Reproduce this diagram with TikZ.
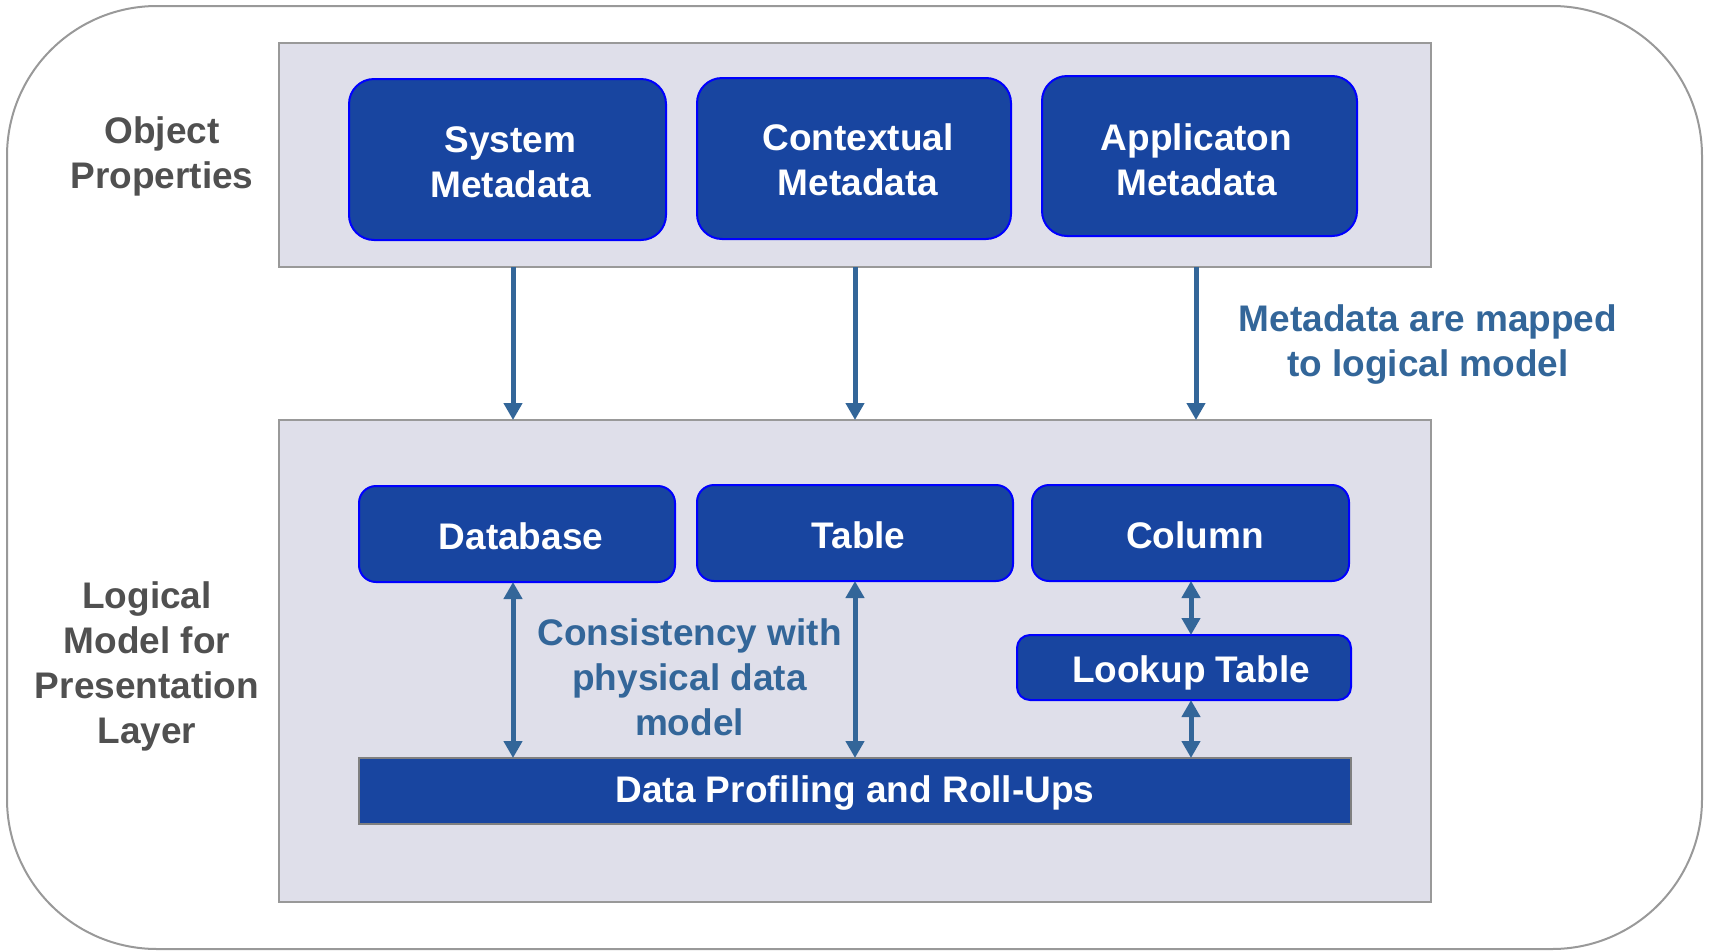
\documentclass[tikz,border=0pt]{standalone}
\usepackage{fontspec}
\setmainfont{Liberation Sans}
\usetikzlibrary{arrows.meta}

\definecolor{frameGray}{RGB}{153,153,153}
\definecolor{barEdge}{RGB}{128,128,128}
\definecolor{panelFill}{RGB}{223,223,234}
\definecolor{boxFill}{RGB}{24,69,160}
\definecolor{boxLine}{RGB}{0,0,255}
\definecolor{flowBlue}{RGB}{51,102,153}
\definecolor{labelGray}{RGB}{80,80,80}

\begin{document}
\begin{tikzpicture}[x=1pt,y=-1pt,
  % a rectangle node spanning left/top/right/bottom
  spanbox/.style args={#1/#2/#3/#4}{
    at={({(#1+#3)/2},{(#2+#4)/2})}, anchor=center,
    minimum width={#3-#1}, minimum height={#4-#2}, inner sep=0pt, outer sep=0pt},
  txt/.style={font=\fontsize{37}{45}\selectfont\bfseries, align=center},
  frame/.style={draw=frameGray, line width=2pt, rounded corners=150pt},
  panel/.style={draw=frameGray, line width=2.5pt, fill=panelFill},
  metabox/.style={draw=boxLine, line width=2pt, fill=boxFill, rounded corners=25pt},
  itembox/.style={metabox, rounded corners=17pt},
  lookbox/.style={metabox, rounded corners=13pt},
  barbox/.style={draw=barEdge, line width=2.5pt, fill=boxFill},
  boxtext/.style={txt, text=white, inner sep=0pt},
  tip/.tip={Triangle[length=17pt,width=18pt]},
  flow/.style={draw=flowBlue, line width=5pt, -tip},
  bothflow/.style={draw=flowBlue, line width=5pt, tip-tip},
  sidelabel/.style={txt, text=labelGray},
  note/.style={txt, text=flowBlue}
]
\useasboundingbox (0,0) rectangle (1709,951);

% outer frame and the two layer panels
\node[frame, spanbox=7/6/1702/949] (outer) {};
\node[panel, spanbox=279/43/1431/267] (top) {};
\node[panel, spanbox=279/420/1431/902] (low) {};

% object properties
\node[metabox, spanbox=349/79/666/240] (sys) {};
\node[metabox, spanbox=697/78/1011/239] (ctx) {};
\node[metabox, spanbox=1042/76/1357/236] (app) {};
\node[boxtext] (systxt) at ([shift={(3,2.5)}]sys.center) {System\\Metadata};
\node[boxtext] (ctxtxt) at ([shift={(4,1.5)}]ctx.center) {Contextual\\Metadata};
\node[boxtext] (apptxt) at ([shift={(-3,3.5)}]app.center) {Applicaton\\Metadata};

% logical model
\node[itembox, spanbox=359/486/675/582] (db) {};
\node[itembox, spanbox=697/485/1013/581] (tbl) {};
\node[itembox, spanbox=1032/485/1349/581] (col) {};
\node[lookbox, spanbox=1017/635/1351/700] (look) {};
\node[barbox, spanbox=359/758/1351/824] (bar) {};
\node[boxtext] (dbtxt) at ([shift={(4,1.8)}]db.center) {Database};
\node[boxtext] (tbltxt) at ([shift={(3.5,1.8)}]tbl.center) {Table};
\node[boxtext] (coltxt) at ([shift={(4.5,1.8)}]col.center) {Column};
\node[boxtext] (looktxt) at ([shift={(7,5.5)}]look.center) {Lookup Table};
\node[boxtext] (bartxt) at ([shift={(0,2)}]bar.center) {Data Profiling and Roll-Ups};

% connector columns
\coordinate (a1) at (513,0);
\coordinate (a2) at (855,0);
\coordinate (a3) at (1196,0);
\coordinate (a4) at (1191,0);

\draw[flow] (top.south -| a1) -- (low.north -| a1);
\draw[flow] (top.south -| a2) -- (low.north -| a2);
\draw[flow] (top.south -| a3) -- (low.north -| a3);

\draw[bothflow] (db.south -| a1) -- (bar.north -| a1);
\draw[bothflow] (tbl.south -| a2) -- (bar.north -| a2);
\draw[bothflow] (col.south -| a4) -- (look.north -| a4);
\draw[bothflow] (look.south -| a4) -- (bar.north -| a4);

% labels
\node[sidelabel] (objlbl) at (162,156.5) {Object\\Properties};
\node[sidelabel] (loglbl) at (147,666) {Logical\\Model for\\Presentation\\Layer};
\node[note] (maplbl) at (1428,345) {Metadata are mapped\\to logical model};
\node[note] (conslbl) at (689.5,677.5) {Consistency with\\physical data\\model};
\end{tikzpicture}
\end{document}
